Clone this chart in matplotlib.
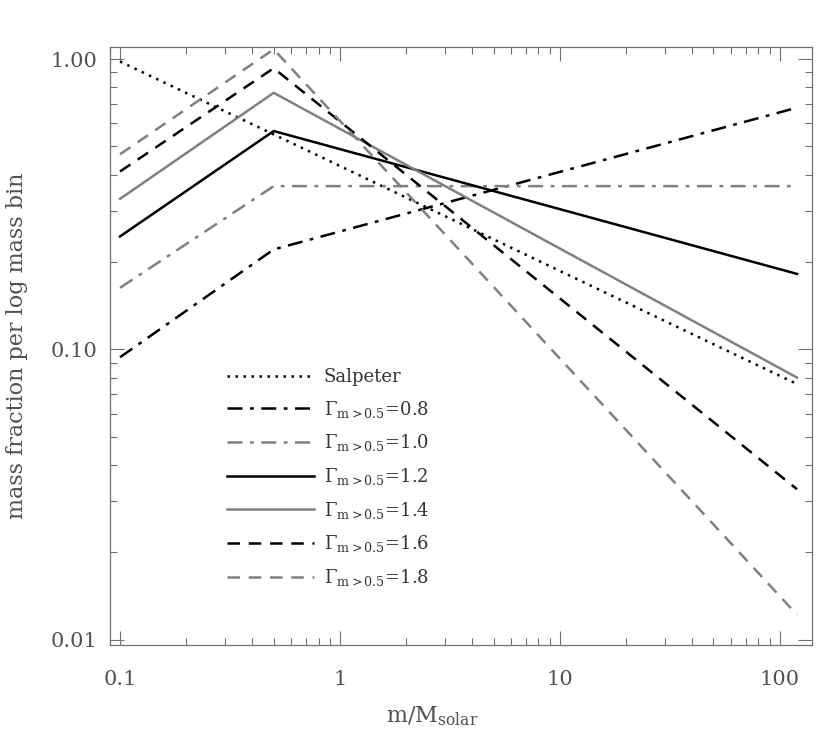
import numpy as np
import matplotlib
matplotlib.use('Agg')
import matplotlib.pyplot as plt
from matplotlib.ticker import LogLocator, FixedLocator, FixedFormatter, NullFormatter

plt.rcParams['font.family'] = ['DejaVu Serif']
plt.rcParams['mathtext.fontset'] = 'dejavuserif'

# ── data ──────────────────────────────────────────────────────────────────────
MASS = [0.1, 0.5, 120.0]
SALPETER = [0.98, 0.55, 0.076]
G08 = [0.094, 0.221, 0.68]
G10 = [0.163, 0.365, 0.365]
G12 = [0.245, 0.565, 0.182]
G14 = [0.330, 0.765, 0.080]
G16 = [0.410, 0.930, 0.033]
G18 = [0.470, 1.080, 0.0122]
LABELS = ['Salpeter',
          r'$\Gamma_{\rm m>0.5}$=0.8', r'$\Gamma_{\rm m>0.5}$=1.0',
          r'$\Gamma_{\rm m>0.5}$=1.2', r'$\Gamma_{\rm m>0.5}$=1.4',
          r'$\Gamma_{\rm m>0.5}$=1.6', r'$\Gamma_{\rm m>0.5}$=1.8']

GRAY = '#808080'
AXC = '#707070'
TXT = '#505050'

fig = plt.figure(figsize=(8.3, 7.46), dpi=100)
ax = fig.add_axes([0.1325, 0.1354, 0.8455, 0.8016])

lw = 1.8
ax.plot(MASS, SALPETER, color='black', lw=lw, ls=(0, (1, 2.2)), label=LABELS[0])
ax.plot(MASS, G08, color='black', lw=lw, ls=(0, (6, 3, 1.5, 3)), label=LABELS[1])
ax.plot(MASS, G10, color=GRAY, lw=lw, ls=(0, (6, 3, 1.5, 3)), label=LABELS[2])
ax.plot(MASS, G12, color='black', lw=lw, ls='-', label=LABELS[3])
ax.plot(MASS, G14, color=GRAY, lw=lw, ls='-', label=LABELS[4])
ax.plot(MASS, G16, color='black', lw=lw, ls=(0, (5, 3.5)), label=LABELS[5])
ax.plot(MASS, G18, color=GRAY, lw=lw, ls=(0, (5, 3.5)), label=LABELS[6])

ax.set_xscale('log')
ax.set_yscale('log')
ax.set_xlim(0.09, 140)
ax.set_ylim(0.0096, 1.1)

ax.xaxis.set_major_locator(FixedLocator([0.1, 1, 10, 100]))
ax.xaxis.set_major_formatter(FixedFormatter(['0.1', '1', '10', '100']))
ax.xaxis.set_minor_locator(LogLocator(base=10, subs=np.arange(2, 10), numticks=20))
ax.xaxis.set_minor_formatter(NullFormatter())
ax.yaxis.set_major_locator(FixedLocator([0.01, 0.1, 1.0]))
ax.yaxis.set_major_formatter(FixedFormatter(['0.01', '0.10', '1.00']))
ax.yaxis.set_minor_locator(LogLocator(base=10, subs=np.arange(2, 10), numticks=20))
ax.yaxis.set_minor_formatter(NullFormatter())

ax.tick_params(which='both', direction='in', top=True, right=True,
               colors=AXC, labelcolor=TXT, width=0.8)
ax.tick_params(which='major', length=10, labelsize=15)
ax.tick_params(axis='x', which='major', pad=18)
ax.tick_params(axis='y', which='major', pad=9)
ax.tick_params(which='minor', length=5)
for s in ax.spines.values():
    s.set_color(AXC)
    s.set_linewidth(0.9)

ax.set_xlabel(r'm/M$_{\rm solar}$', fontsize=16, color=TXT)
ax.xaxis.set_label_coords(0.46, -0.1)
ax.set_ylabel('mass fraction per log mass bin', fontsize=16, color=TXT, labelpad=16)

ax.legend(loc='upper left', bbox_to_anchor=(0.157, 0.475), frameon=False,
          fontsize=13, handlelength=4.8, handletextpad=0.55, labelspacing=0.7,
          labelcolor='#333333', borderaxespad=0)

fig.savefig('out.png', dpi=100)
